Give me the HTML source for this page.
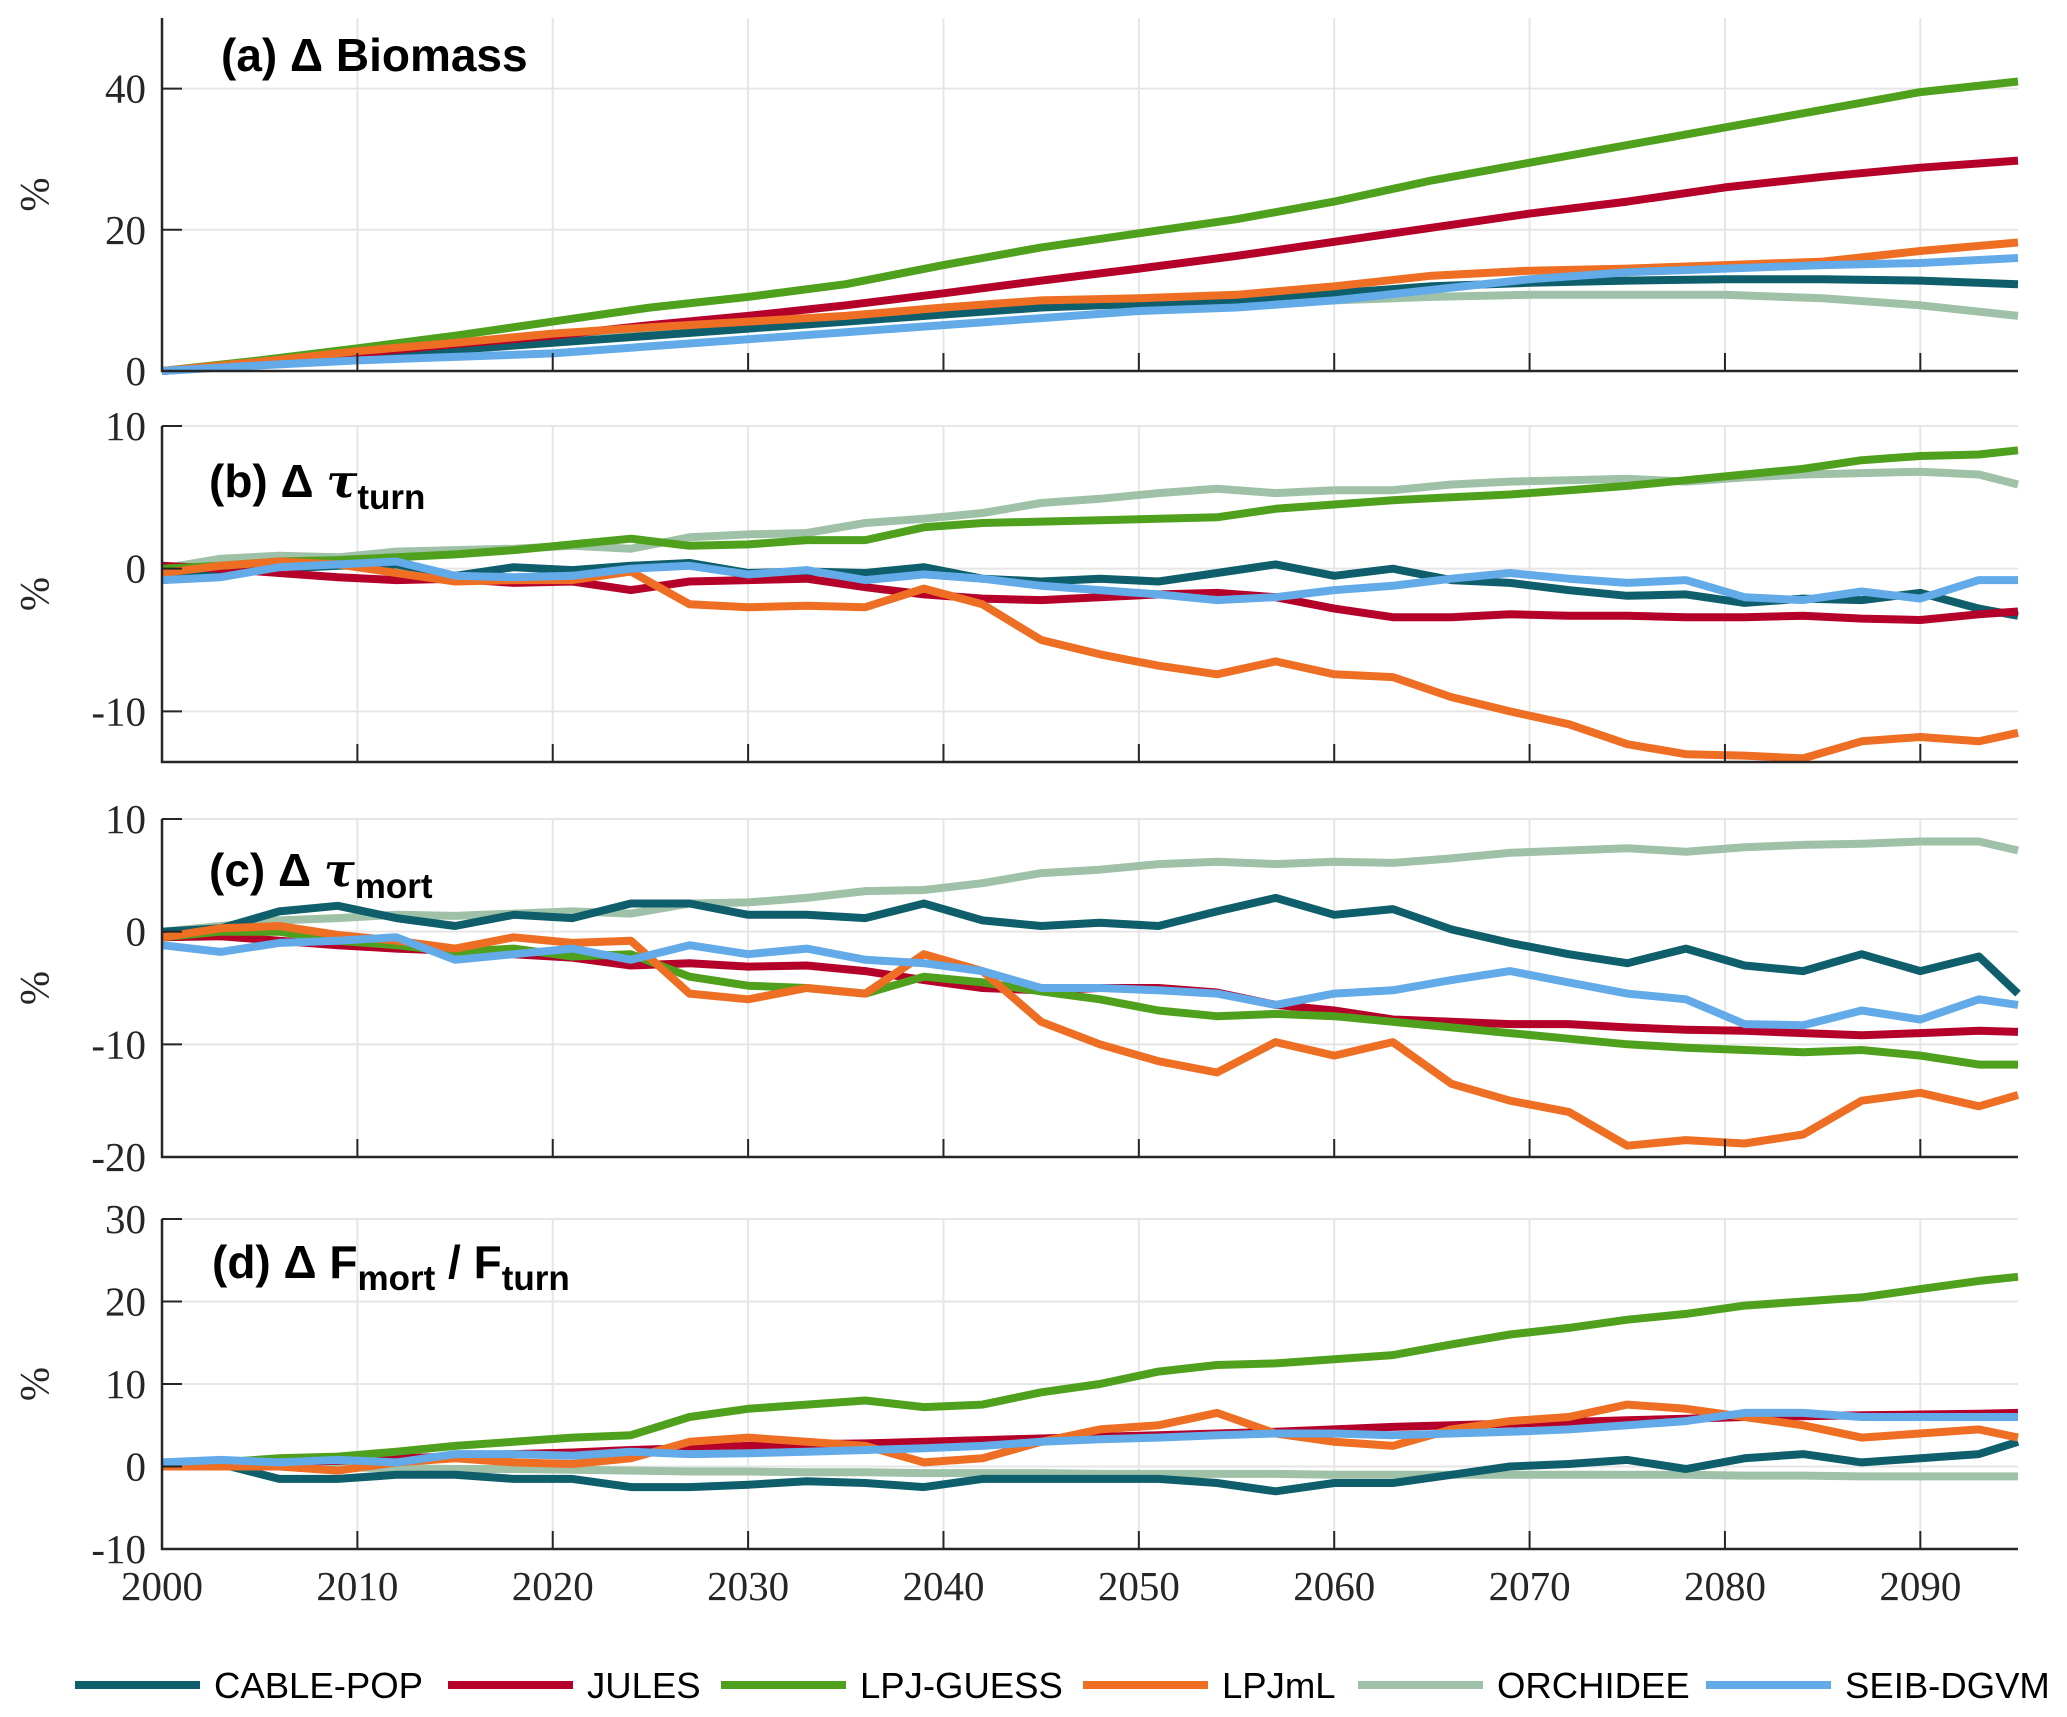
<!DOCTYPE html>
<html><head><meta charset="utf-8"><style>
html,body{margin:0;padding:0;background:#fff;}
svg{display:block;}
.tk{font-family:"Liberation Serif",serif;font-size:41px;fill:#262626;}
.tt{font-family:"Liberation Sans",sans-serif;font-weight:bold;font-size:46px;fill:#000;}
.lg{font-family:"Liberation Sans",sans-serif;font-size:36.5px;fill:#000;}
</style></head><body>
<svg id="chart" width="2067" height="1717" viewBox="0 0 2067 1717" xmlns="http://www.w3.org/2000/svg">
<g id="grid"></g>
<g id="series"></g>
<g id="axes"></g>
<text class="tt" x="221" y="71">(a) Δ Biomass</text>
<text class="tt" x="209" y="497">(b) Δ <tspan font-style="italic" font-family="DejaVu Serif">τ</tspan><tspan font-size="35" dy="12">turn</tspan></text>
<text class="tt" x="209" y="886">(c) Δ <tspan font-style="italic" font-family="DejaVu Serif">τ</tspan><tspan font-size="35" dy="12">mort</tspan></text>
<text class="tt" x="212" y="1278">(d) Δ F<tspan font-size="35" dy="12">mort</tspan><tspan dy="-12"> / F</tspan><tspan font-size="35" dy="12">turn</tspan></text>
<g id="legend"></g>
</svg>
<script>
const names = ["CABLE-POP","JULES","LPJ-GUESS","LPJmL","ORCHIDEE","SEIB-DGVM"];
const colors = ["#0e5f6b","#b5002a","#4fa11d","#ee6e23","#9fc1a7","#62aae8"];
const xTicks = [2000,2010,2020,2030,2040,2050,2060,2070,2080,2090];
const yearsA = [2000,2005,2010,2015,2020,2025,2030,2035,2040,2045,2050,2055,2060,2065,2070,2075,2080,2085,2090,2095];
const yearsB = [2000,2003,2006,2009,2012,2015,2018,2021,2024,2027,2030,2033,2036,2039,2042,2045,2048,2051,2054,2057,2060,2063,2066,2069,2072,2075,2078,2081,2084,2087,2090,2093,2095];
const aCABLE = [0,1,2,3,4,5,6,7,8,9,9.5,10,11,12,12.5,12.8,13,13,12.8,12.3];
const aJULES = [-0.5,1,2.5,3.8,5,6.5,7.8,9.3,11,12.8,14.5,16.3,18.3,20.3,22.3,24,26,27.5,28.8,29.8];
const aGUESS = [0,1.5,3.2,5,7,9,10.5,12.3,15,17.5,19.5,21.5,24,27,29.5,32,34.5,37,39.5,41];
const aLPJmL = [0,1.3,2.8,4,5.3,6.2,7,7.8,9,10,10.3,10.8,12,13.5,14.2,14.5,15,15.5,17,18.2];
const aORCH = [0,1.2,2.5,3.5,4.5,5.5,6.5,7.5,8.5,9.5,10,10,10,10.5,10.8,10.8,10.8,10.3,9.3,7.8];
const aSEIB = [0,0.8,1.5,2,2.5,3.5,4.5,5.5,6.5,7.5,8.5,9,10,11.5,13,14,14.5,15,15.3,16];
const bCABLE = [-0.5,-0.3,0,0.2,0.3,-0.5,0.1,-0.1,0.2,0.4,-0.3,-0.2,-0.3,0.1,-0.7,-0.9,-0.7,-0.9,-0.3,0.3,-0.5,0,-0.8,-1.0,-1.5,-1.9,-1.8,-2.4,-2.1,-2.2,-1.7,-2.8,-3.3];
const bJULES = [0.2,0,-0.3,-0.6,-0.8,-0.7,-1.0,-0.9,-1.5,-0.9,-0.8,-0.7,-1.3,-1.8,-2.1,-2.2,-2.0,-1.8,-1.7,-2.0,-2.8,-3.4,-3.4,-3.2,-3.3,-3.3,-3.4,-3.4,-3.3,-3.5,-3.6,-3.2,-3.0];
const bGUESS = [0,0.2,0.5,0.6,0.8,1,1.3,1.7,2.1,1.6,1.7,2.0,2.0,2.9,3.2,3.3,3.4,3.5,3.6,4.2,4.5,4.8,5.0,5.2,5.5,5.8,6.2,6.6,7.0,7.6,7.9,8.0,8.3];
const bLPJmL = [-0.3,0.2,0.5,0.3,-0.3,-0.9,-0.8,-0.8,-0.2,-2.5,-2.7,-2.6,-2.7,-1.4,-2.5,-5.0,-6.0,-6.8,-7.4,-6.5,-7.4,-7.6,-9.0,-10.0,-10.9,-12.3,-13.0,-13.1,-13.3,-12.1,-11.8,-12.1,-11.5];
const bORCH = [0,0.7,0.9,0.8,1.2,1.3,1.4,1.6,1.4,2.2,2.4,2.5,3.2,3.5,3.9,4.6,4.9,5.3,5.6,5.3,5.5,5.5,5.9,6.1,6.2,6.3,6.1,6.4,6.6,6.7,6.8,6.6,5.9];
const bSEIB = [-0.8,-0.6,0.1,0.3,0.5,-0.5,-0.6,-0.5,0,0.2,-0.4,-0.1,-0.8,-0.4,-0.7,-1.2,-1.5,-1.8,-2.2,-2.0,-1.5,-1.2,-0.7,-0.3,-0.7,-1.0,-0.8,-2.0,-2.2,-1.6,-2.1,-0.8,-0.8];
const cCABLE = [0,0.3,1.8,2.3,1.2,0.5,1.5,1.2,2.5,2.5,1.5,1.5,1.2,2.5,1.0,0.5,0.8,0.5,1.8,3.0,1.5,2.0,0.2,-1.0,-2.0,-2.8,-1.5,-3.0,-3.5,-2.0,-3.5,-2.2,-5.5];
const cJULES = [-0.5,-0.4,-0.8,-1.2,-1.5,-1.7,-2.0,-2.3,-3.0,-2.8,-3.1,-3.0,-3.5,-4.3,-5.0,-5.2,-5.0,-5.0,-5.4,-6.5,-7.0,-7.8,-8.0,-8.2,-8.2,-8.5,-8.7,-8.8,-9.0,-9.2,-9.0,-8.8,-8.9];
const cGUESS = [-0.5,0,0,-0.8,-1.2,-1.8,-1.5,-2.2,-2.0,-4.0,-4.8,-5.0,-5.5,-4.0,-4.5,-5.3,-6.0,-7.0,-7.5,-7.3,-7.5,-8.0,-8.5,-9.0,-9.5,-10.0,-10.3,-10.5,-10.7,-10.5,-11.0,-11.8,-11.8];
const cLPJmL = [-0.5,0.3,0.5,-0.3,-0.8,-1.5,-0.5,-1.0,-0.8,-5.5,-6.0,-5.0,-5.5,-2.0,-3.5,-8.0,-10.0,-11.5,-12.5,-9.8,-11.0,-9.8,-13.5,-15.0,-16.0,-19.0,-18.5,-18.8,-18.0,-15.0,-14.3,-15.5,-14.5];
const cORCH = [0,0.5,1,1.2,1.5,1.4,1.6,1.8,1.6,2.5,2.6,3.0,3.6,3.7,4.3,5.2,5.5,6.0,6.2,6.0,6.2,6.1,6.5,7.0,7.2,7.4,7.1,7.5,7.7,7.8,8.0,8.0,7.2];
const cSEIB = [-1.2,-1.8,-1.0,-0.8,-0.5,-2.5,-2.0,-1.5,-2.5,-1.2,-2.0,-1.5,-2.5,-2.8,-3.5,-5.0,-5.0,-5.2,-5.5,-6.5,-5.5,-5.2,-4.3,-3.5,-4.5,-5.5,-6.0,-8.2,-8.3,-7.0,-7.8,-6.0,-6.5];
const dCABLE = [0,0.3,-1.5,-1.5,-1.0,-1.0,-1.5,-1.5,-2.5,-2.5,-2.2,-1.8,-2.0,-2.5,-1.5,-1.5,-1.5,-1.5,-2.0,-3.0,-2.0,-2.0,-1.0,0,0.3,0.8,-0.3,1.0,1.5,0.5,1.0,1.5,3.0];
const dJULES = [0,0.3,0.5,0.7,1.0,1.2,1.5,1.7,2.0,2.2,2.5,2.7,2.8,3.0,3.2,3.4,3.6,3.8,4.0,4.2,4.5,4.8,5.0,5.2,5.4,5.6,5.8,6.0,6.1,6.2,6.3,6.4,6.5];
const dGUESS = [0,0.5,1.0,1.2,1.8,2.5,3.0,3.5,3.8,6.0,7.0,7.5,8.0,7.2,7.5,9.0,10.0,11.5,12.3,12.5,13.0,13.5,14.8,16.0,16.8,17.8,18.5,19.5,20.0,20.5,21.5,22.5,23.0];
const dLPJmL = [0,0,0,-0.5,0.5,1.0,0.5,0.3,1.0,3.0,3.5,3.0,2.5,0.5,1.0,3.0,4.5,5.0,6.5,4.0,3.0,2.5,4.5,5.5,6.0,7.5,7.0,6.0,5.0,3.5,4.0,4.5,3.5];
const dORCH = [0.5,0.3,0,-0.1,-0.2,-0.3,-0.3,-0.4,-0.5,-0.6,-0.6,-0.7,-0.7,-0.8,-0.8,-0.8,-0.9,-0.9,-0.9,-0.9,-1.0,-1.0,-1.0,-1.0,-1.0,-1.0,-1.0,-1.1,-1.1,-1.2,-1.2,-1.2,-1.2];
const dSEIB = [0.5,0.8,0.5,0.8,0.5,1.5,1.5,1.3,1.8,1.5,1.6,1.8,2.0,2.2,2.5,3.0,3.3,3.5,3.8,4.0,4.0,3.8,4.0,4.2,4.5,5.0,5.5,6.5,6.5,6.0,6.0,6.0,6.0];
const ticksA = [0,20,40], ticksB = [-10,0,10], ticksC = [-20,-10,0,10], ticksD = [-10,0,10,20,30];

const NS = "http://www.w3.org/2000/svg";
const X0 = 162, X1 = 2018, XMIN = 2000, XMAX = 2095;
function xs(v){ return X0 + (v - XMIN) / (XMAX - XMIN) * (X1 - X0); }
function mk(tag, attrs, parent){ const e = document.createElementNS(NS, tag); for (const k in attrs) e.setAttribute(k, attrs[k]); parent.appendChild(e); return e; }
const panels = [
 {id:"a", top:18, bot:371, vmin:0, vmax:50, ticks:ticksA, years:yearsA, data:[aCABLE,aJULES,aGUESS,aLPJmL,aORCH,aSEIB], xlab:false},
 {id:"b", top:426, bot:762, vmin:-13.55, vmax:10, ticks:ticksB, years:yearsB, data:[bCABLE,bJULES,bGUESS,bLPJmL,bORCH,bSEIB], xlab:false},
 {id:"c", top:819, bot:1157, vmin:-20, vmax:10, ticks:ticksC, years:yearsB, data:[cCABLE,cJULES,cGUESS,cLPJmL,cORCH,cSEIB], xlab:false},
 {id:"d", top:1219, bot:1549, vmin:-10, vmax:30, ticks:ticksD, years:yearsB, data:[dCABLE,dJULES,dGUESS,dLPJmL,dORCH,dSEIB], xlab:true}
];
const G = document.getElementById("grid"), S = document.getElementById("series"), A = document.getElementById("axes");
panels.forEach(p => {
  const ys = v => p.bot - (v - p.vmin) / (p.vmax - p.vmin) * (p.bot - p.top);
  xTicks.forEach(t => {
    const l = mk("line", {x1:xs(t), x2:xs(t), y1:p.top, y2:p.bot, stroke:"#e6e6e6", "stroke-width":2}, G);
    
    
    const tk = mk("line", {x1:xs(t), x2:xs(t), y1:p.bot, y2:p.bot-18, stroke:"#262626", "stroke-width":2}, A);
    
    
    if (p.xlab) {
      const tx = mk("text", {x:xs(t), y:1600, "text-anchor":"middle", class:"tk"}, A);
      tx.textContent = t;
      
      
    }
  });
  p.ticks.forEach(t => {
    const l = mk("line", {x1:X0, x2:X1, y1:ys(t), y2:ys(t), stroke:"#e6e6e6", "stroke-width":2}, G);
    
    
    const tk = mk("line", {x1:X0, x2:X0+20, y1:ys(t), y2:ys(t), stroke:"#262626", "stroke-width":2}, A);
    
    
    const tx = mk("text", {x:146, y:ys(t)+14, "text-anchor":"end", class:"tk"}, A);
    tx.textContent = t;
    
    
  });
  const ax = mk("path", {d:`M${X0},${p.top}V${p.bot}H${X1}`, fill:"none", stroke:"#262626", "stroke-width":2.5}, A);
  
  
  const yl = mk("text", {x:0, y:0, transform:`translate(48,${(p.top+p.bot)/2}) rotate(-90)`, "text-anchor":"middle", class:"tk", "font-size":"42"}, A);
  yl.textContent = "%";
  
  
  const order = [4,0,1,2,3,5];
  order.forEach(i => {
    const arr = p.data[i];
    const d = arr.map((v, j) => (j ? "L" : "M") + xs(p.years[j]).toFixed(1) + "," + ys(Math.max(p.vmin, v)).toFixed(1)).join("");
    const path = mk("path", {d:d, fill:"none", stroke:colors[i], "stroke-width":8, "stroke-linejoin":"round"}, S);
    
    
  });
});
const L = document.getElementById("legend");
const lx = [75, 448, 721, 1083, 1358, 1706];
names.forEach((n, i) => {
  const g = mk("g", {}, L);
  
  
  mk("line", {x1:lx[i], x2:lx[i]+125, y1:1685, y2:1685, stroke:colors[i], "stroke-width":8}, g);
  const t = mk("text", {x:lx[i]+139, y:1698, class:"lg"}, g);
  t.textContent = n;
});
</script>
</body></html>
